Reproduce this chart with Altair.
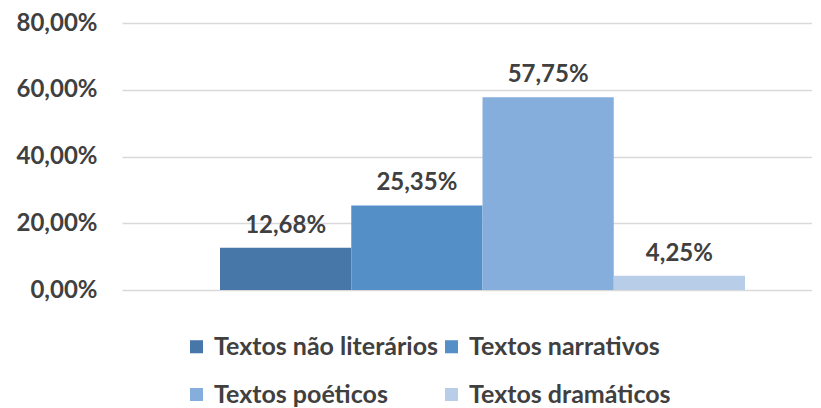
import altair as alt
import pandas as pd

series = ["Textos não literários", "Textos narrativos", "Textos poéticos", "Textos dramáticos"]
values = [12.68, 25.35, 57.75, 4.25]
colors = ["#4677A8", "#5490C7", "#85AEDC", "#B7CDE8"]
y_ticks = [0, 20, 40, 60, 80]

df = pd.DataFrame({
    "serie": series,
    "valor": values,
    "rotulo": [f"{v:.2f}".replace(".", ",") + "%" for v in values],
})

FONT = "Lato"
TXT = "#404040"

x = alt.X("serie:N", sort=series, axis=None,
          scale=alt.Scale(domain=series, paddingInner=0, paddingOuter=0.6286, align=0.594))
y = alt.Y("valor:Q",
          scale=alt.Scale(domain=[0, 80]),
          axis=alt.Axis(values=y_ticks, title=None, domain=False, ticks=False,
                        labelPadding=25, labelFontSize=24, labelFont=FONT,
                        labelFontWeight="bold", labelColor=TXT,
                        gridColor="#D9D9D9", gridWidth=1.5,
                        labelExpr="replace(format(datum.value, '.2f'), '.', ',') + '%'"))

bars = alt.Chart(df).mark_bar().encode(
    x=x, y=y,
    color=alt.Color("serie:N", sort=series,
                    scale=alt.Scale(domain=series, range=colors),
                    legend=alt.Legend(title=None, orient="none", legendX=62, legendY=311,
                                      columns=2, direction="horizontal",
                                      symbolType="square", symbolSize=170,
                                      symbolStrokeWidth=0, symbolOpacity=1,
                                      labelFont=FONT, labelFontSize=25, labelFontWeight="bold",
                                      labelColor=TXT, labelLimit=400, columnPadding=0,
                                      rowPadding=22, labelOffset=5)),
)

labels = alt.Chart(df).mark_text(baseline="bottom", dy=-10, font=FONT, fontSize=24,
                                 fontWeight="bold", color=TXT).encode(
    x=x, y=alt.Y("valor:Q"), text="rotulo:N")

chart = alt.layer(bars, labels).properties(
    width=690, height=267,
    background="white",
    autosize=alt.AutoSizeParams(type="none"),
    padding={"left": 114, "top": 15, "right": 0, "bottom": 118},
).configure_view(stroke=None)

chart.save("out.html", embed_options={"renderer": "svg", "actions": False})
